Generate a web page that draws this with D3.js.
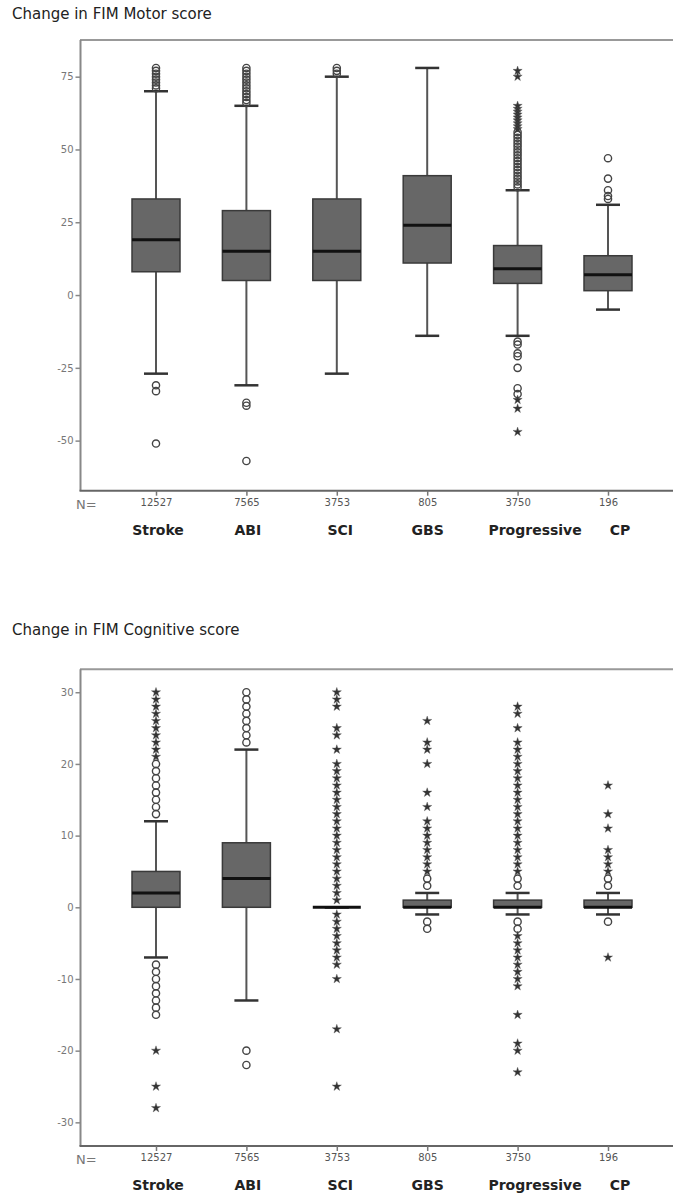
<!DOCTYPE html>
<html>
<head>
<meta charset="utf-8">
<script src="https://cdn.jsdelivr.net/npm/d3@7"></script>
<style>
  body { margin: 0; background: #fff; }
</style>
</head>
<body>
<div id="chart"></div>
<script>
// groups and sample sizes
const categories = ["Stroke", "ABI", "SCI", "GBS", "Progressive", "CP"];
const counts = ["12527", "7565", "3753", "805", "3750", "196"];

// Change in FIM Motor score
const motorLow = [-27, -31, -27, -14, -14, -5];
const motorQ1 = [8, 5, 5, 11, 4, 1.5];
const motorMedian = [19, 15, 15, 24, 9, 7];
const motorQ3 = [33, 29, 33, 41, 17, 13.5];
const motorHigh = [70, 65, 75, 78, 36, 31];
const motorOutliers = [
  [71, 72, 73, 74, 75, 76, 77, 78, -31, -33, -51],
  [66, 67, 68, 69, 70, 71, 72, 73, 74, 75, 76, 77, 78, -37, -38, -57],
  [76, 77, 78],
  [],
  [37, 38, 39, 40, 41, 42, 43, 44, 45, 46, 47, 48, 49, 50, 51, 52, 53, 54, 55, 56,
   -16, -17, -20, -21, -25, -32, -34],
  [33, 34, 36, 40, 47]
];
const motorExtremes = [
  [], [], [], [],
  [57, 58, 59, 60, 61, 62, 63, 64, 65, 75, 77, -36, -39, -47],
  []
];
const motorTicks = [-50, -25, 0, 25, 50, 75];

// Change in FIM Cognitive score
const cogLow = [-7, -13, 0, -1, -1, -1];
const cogQ1 = [0, 0, 0, 0, 0, 0];
const cogMedian = [2, 4, 0, 0, 0, 0];
const cogQ3 = [5, 9, 0, 1, 1, 1];
const cogHigh = [12, 22, 0, 2, 2, 2];
const cogOutliers = [
  [13, 14, 15, 16, 17, 18, 19, 20, -8, -9, -10, -11, -12, -13, -14, -15],
  [23, 24, 25, 26, 27, 28, 29, 30, -20, -22],
  [],
  [3, 4, -2, -3],
  [3, 4, -2, -3],
  [3, 4, -2]
];
const cogExtremes = [
  [21, 22, 23, 24, 25, 26, 27, 28, 29, 30, -20, -25, -28],
  [],
  [1, 2, 3, 4, 5, 6, 7, 8, 9, 10, 11, 12, 13, 14, 15, 16, 17, 18, 19, 20, 22, 24, 25, 28, 29, 30,
   -1, -2, -3, -4, -5, -6, -7, -8, -10, -17, -25],
  [5, 6, 7, 8, 9, 10, 11, 12, 14, 16, 20, 22, 23, 26],
  [5, 6, 7, 8, 9, 10, 11, 12, 13, 14, 15, 16, 17, 18, 19, 20, 21, 22, 23, 25, 27, 28,
   -4, -5, -6, -7, -8, -9, -10, -11, -15, -19, -20, -23],
  [5, 6, 7, 8, 11, 13, 17, -7]
];
const cogTicks = [-30, -20, -10, 0, 10, 20, 30];

const W = 673, H = 1196;
const labelShift = [2, 1.5, 3.5, 0.5, 17.5, 12];

const svg = d3.select("#chart").append("svg")
  .attr("width", W)
  .attr("height", H);

function drawPanel(opt) {
  const g = svg.append("g");

  const x = d3.scalePoint()
    .domain(categories)
    .range([156, 608]);

  const y = d3.scaleLinear()
    .domain(opt.domain)
    .range([opt.bottom, opt.top]);

  // title
  g.append("text")
    .attr("x", 12)
    .attr("y", opt.titleY)
    .style("font-family", "DejaVu Sans")
    .style("font-size", "15px")
    .style("fill", "#222")
    .text(opt.title);

  // frame (top line and left axis)
  g.append("line")
    .attr("x1", 80).attr("x2", 690)
    .attr("y1", opt.top).attr("y2", opt.top)
    .style("stroke", "#999").style("stroke-width", 2);

  const yAxis = d3.axisLeft(y).tickValues(opt.ticks).tickSize(5).tickPadding(2)
    .tickFormat(d => String(d));
  const ya = g.append("g")
    .attr("transform", "translate(80.5,0)")
    .call(yAxis);
  ya.select(".domain").style("stroke", "#888").style("stroke-width", 2)
    .attr("d", "M0," + opt.top + "V" + opt.bottom);
  ya.selectAll(".tick line").style("stroke", "#888").style("stroke-width", 1.5);
  ya.selectAll(".tick text")
    .style("font-family", "DejaVu Sans")
    .style("font-size", "10px")
    .style("fill", "#777");

  const xAxis = d3.axisBottom(x).tickSize(5).tickFormat((d, i) => counts[i]).tickPadding(3);
  const xa = g.append("g")
    .attr("transform", "translate(0," + opt.bottom + ")")
    .call(xAxis);
  xa.select(".domain").style("stroke", "#666").style("stroke-width", 2)
    .attr("d", "M79.5,0H690");
  xa.selectAll(".tick line").style("stroke", "#777").style("stroke-width", 1.5);
  xa.selectAll(".tick text")
    .style("font-family", "DejaVu Sans")
    .style("font-size", "10px")
    .style("fill", "#555");

  g.append("text")
    .attr("x", 76)
    .attr("y", opt.bottom + 18)
    .style("font-family", "DejaVu Sans")
    .style("font-size", "13px")
    .style("fill", "#777")
    .text("N=");

  g.selectAll(".cat")
    .data(categories)
    .enter()
    .append("text")
    .attr("class", "cat")
    .attr("x", (d, i) => x(d) + labelShift[i])
    .attr("y", opt.bottom + 44)
    .attr("text-anchor", "middle")
    .style("font-family", "DejaVu Sans")
    .style("font-weight", "bold")
    .style("font-size", "14px")
    .style("fill", "#222")
    .text(d => d);

  const boxW = 48, capW = 24;
  const groups = g.selectAll(".grp")
    .data(categories)
    .enter()
    .append("g")
    .attr("class", "grp");

  // whiskers
  groups.append("line")
    .attr("x1", d => x(d)).attr("x2", d => x(d))
    .attr("y1", (d, i) => y(opt.low[i]))
    .attr("y2", (d, i) => y(opt.q1[i]))
    .style("stroke", "#555").style("stroke-width", 2);
  groups.append("line")
    .attr("x1", d => x(d)).attr("x2", d => x(d))
    .attr("y1", (d, i) => y(opt.high[i]))
    .attr("y2", (d, i) => y(opt.q3[i]))
    .style("stroke", "#555").style("stroke-width", 2);
  groups.append("line")
    .attr("x1", d => x(d) - capW / 2).attr("x2", d => x(d) + capW / 2)
    .attr("y1", (d, i) => y(opt.low[i]))
    .attr("y2", (d, i) => y(opt.low[i]))
    .style("stroke", "#333").style("stroke-width", 2.5);
  groups.append("line")
    .attr("x1", d => x(d) - capW / 2).attr("x2", d => x(d) + capW / 2)
    .attr("y1", (d, i) => y(opt.high[i]))
    .attr("y2", (d, i) => y(opt.high[i]))
    .style("stroke", "#333").style("stroke-width", 2.5);

  // boxes
  groups.append("rect")
    .attr("x", d => x(d) - boxW / 2)
    .attr("y", (d, i) => y(opt.q3[i]))
    .attr("width", boxW)
    .attr("height", (d, i) => y(opt.q1[i]) - y(opt.q3[i]))
    .style("fill", "#676767")
    .style("stroke", "#3a3a3a")
    .style("stroke-width", 1.5);

  groups.append("line")
    .attr("x1", d => x(d) - boxW / 2).attr("x2", d => x(d) + boxW / 2)
    .attr("y1", (d, i) => y(opt.median[i]))
    .attr("y2", (d, i) => y(opt.median[i]))
    .style("stroke", "#111").style("stroke-width", 3);

  // outliers (circles) and extremes (stars)
  const outPts = [];
  opt.outliers.forEach((arr, i) => arr.forEach(v => outPts.push([categories[i], v])));
  g.selectAll(".out")
    .data(outPts)
    .enter()
    .append("circle")
    .attr("class", "out")
    .attr("cx", d => x(d[0]))
    .attr("cy", d => y(d[1]))
    .attr("r", 3.6)
    .style("fill", "none")
    .style("stroke", "#444")
    .style("stroke-width", 1.4);

  const extPts = [];
  opt.extremes.forEach((arr, i) => arr.forEach(v => extPts.push([categories[i], v])));
  const star = d3.symbol().type(d3.symbolStar).size(26);
  g.selectAll(".ext")
    .data(extPts)
    .enter()
    .append("path")
    .attr("class", "ext")
    .attr("d", star)
    .attr("transform", d => "translate(" + x(d[0]) + "," + y(d[1]) + ")")
    .style("fill", "#333")
    .style("stroke", "#555")
    .style("stroke-width", 0.4);
}

drawPanel({
  title: "Change in FIM Motor score",
  titleY: 19,
  top: 40,
  bottom: 490.7,
  domain: [-67.2, 87.6],
  ticks: motorTicks,
  low: motorLow, q1: motorQ1, median: motorMedian, q3: motorQ3, high: motorHigh,
  outliers: motorOutliers, extremes: motorExtremes
});

drawPanel({
  title: "Change in FIM Cognitive score",
  titleY: 635,
  top: 669.3,
  bottom: 1146,
  domain: [-33.3, 33.2],
  ticks: cogTicks,
  low: cogLow, q1: cogQ1, median: cogMedian, q3: cogQ3, high: cogHigh,
  outliers: cogOutliers, extremes: cogExtremes
});
</script>
</body>
</html>
